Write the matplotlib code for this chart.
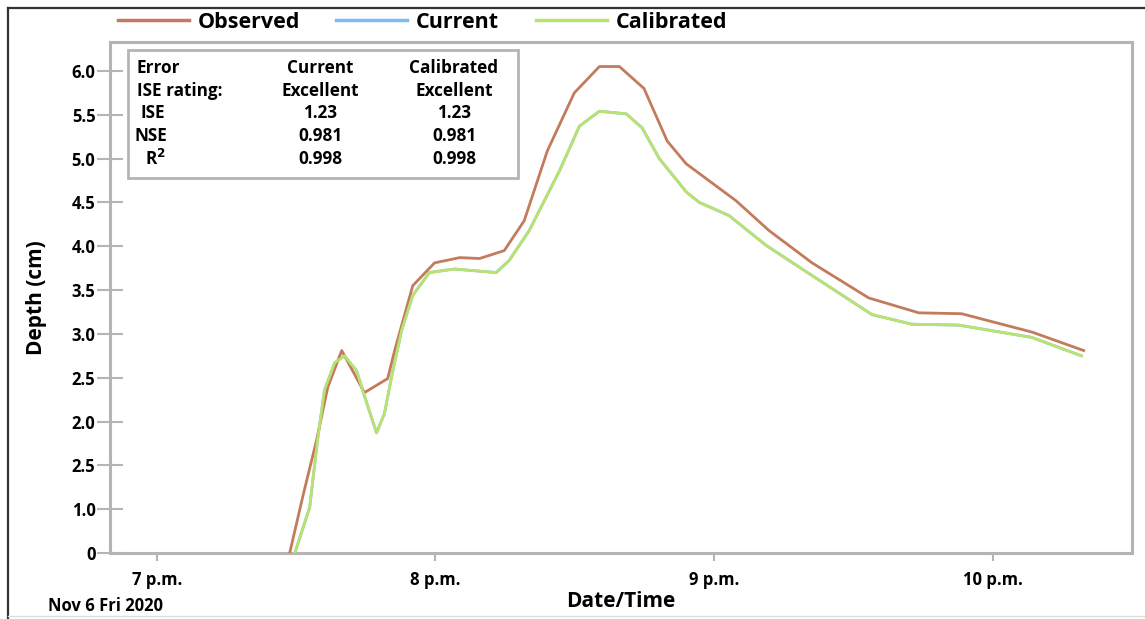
import pandas as pd
import matplotlib
matplotlib.use("Agg")
import matplotlib.pyplot as plt
from matplotlib.lines import Line2D

plt.rcParams["font.family"] = ["Open Sans", "DejaVu Sans"]
plt.rcParams["font.weight"] = "bold"

# minutes after 7 p.m. on Nov 6 2020, and depth in cm
obs_min = [28.6, 31.4, 34.4, 36.8, 39.8, 44.7, 49.7, 51.2, 55.1, 59.8, 65.2, 69.5,
           74.8, 79.1, 84.1, 89.9, 95.3, 99.6, 104.9, 109.9, 114.0, 116.8, 124.7, 131.8,
           141.1, 153.3, 164.1, 173.3, 188.5, 199.6]
obs_depth = [0.50, 1.14, 1.79, 2.39, 2.81, 2.33, 2.49, 2.81, 3.55, 3.81, 3.87, 3.86,
             3.95, 4.29, 5.09, 5.75, 6.05, 6.05, 5.80, 5.20, 4.94, 4.83, 4.52, 4.18,
             3.81, 3.41, 3.24, 3.23, 3.02, 2.81]

cal_min = [29.7, 32.9, 34.6, 36.1, 38.3, 40.4, 43.0, 45.2, 47.3, 49.0, 50.8, 52.7,
           55.1, 58.7, 64.1, 68.4, 73.1, 75.9, 80.2, 86.7, 91.0, 95.3, 101.1, 104.5,
           108.2, 114.0, 116.8, 123.2, 131.2, 140.4, 154.0, 162.6, 172.7, 188.4, 199.1]
cal_depth = [0.50, 1.02, 1.79, 2.36, 2.67, 2.75, 2.58, 2.21, 1.87, 2.09, 2.58, 3.04,
             3.44, 3.70, 3.74, 3.72, 3.70, 3.84, 4.18, 4.86, 5.37, 5.54, 5.51, 5.35,
             5.00, 4.62, 4.50, 4.35, 4.01, 3.69, 3.22, 3.11, 3.10, 2.96, 2.75]

# current run gives the same hydrograph as the calibrated one
cur_min = cal_min
cur_depth = cal_depth

y_ticks = [0.5, 1.0, 1.5, 2.0, 2.5, 3.0, 3.5, 4.0, 4.5, 5.0, 5.5, 6.0]
y_labels = ["0", "1.0", "2.5", "2.0", "2.5", "3.0", "3.5", "4.0", "4.5", "5.0", "5.5", "6.0"]
x_hours = [19, 20, 21, 22]
x_labels = ["7 p.m.", "8 p.m.", "9 p.m.", "10 p.m."]

table_rows = ["Error", "ISE rating:", "ISE", "NSE", r"R$^2$"]
current_col = ["Current", "Excellent", "1.23", "0.981", "0.998"]
calibrated_col = ["Calibrated", "Excellent", "1.23", "0.981", "0.998"]

start = pd.Timestamp("2020-11-06 19:00")
def to_time(mins):
    return start + pd.to_timedelta(mins, unit="min")

c_obs = "#c27b5d"
c_cur = "#7dbcf0"
c_cal = "#b9e26f"
grey = "#b4b4b4"

fig = plt.figure(figsize=(11.45, 6.19), dpi=100)
ax = fig.add_axes([110 / 1145, 66 / 619, 1022 / 1145, 511 / 619])

ax.plot(to_time(obs_min), obs_depth, color=c_obs, lw=2.0, label="Observed", zorder=3)
ax.plot(to_time(cur_min), cur_depth, color=c_cur, lw=2.0, label="Current", zorder=2)
ax.plot(to_time(cal_min), cal_depth, color=c_cal, lw=2.0, label="Calibrated", zorder=4)

ax.set_xlim(start + pd.Timedelta(minutes=-10.1), start + pd.Timedelta(minutes=210))
ax.set_ylim(0.5, 6.33)

ax.set_yticks(y_ticks)
ax.set_yticklabels(y_labels, fontsize=12, fontweight="bold")
ax.set_xticks([pd.Timestamp(2020, 11, 6, h) for h in x_hours])
ax.set_xticklabels(x_labels, fontsize=12, fontweight="bold")
ax.tick_params(axis="y", direction="inout", length=19, width=1.5, color=grey, pad=1)
ax.tick_params(axis="x", direction="out", length=6, width=1.5, color=grey, pad=7)

for s in ax.spines.values():
    s.set_color(grey)
    s.set_linewidth(2.2)

ax.set_ylabel("Depth (cm)", fontsize=15, fontweight="bold")
ax.yaxis.set_label_coords(-0.062, 0.5)
ax.set_xlabel("Date/Time", fontsize=15, fontweight="bold")
ax.xaxis.set_label_coords(0.5, -0.075)
fig.text(48 / 1145, 1 - 606 / 619, "Nov 6 Fri 2020", fontsize=12, fontweight="bold",
         va="center", ha="left")

# error statistics box
box = plt.Rectangle((128 / 1145, 1 - 178 / 619), 390 / 1145, 128 / 619,
                    transform=fig.transFigure, fill=False, edgecolor=grey, lw=2.0)
fig.add_artist(box)
row_y = [68, 91, 113, 136, 159]
row_x = [137, 137, 140, 135, 145]
for lab, cur, cal, yy, xx in zip(table_rows, current_col, calibrated_col, row_y, row_x):
    fig.text(xx / 1145, 1 - yy / 619, lab, fontsize=12.3, fontweight="bold", va="center")
    fig.text(320 / 1145, 1 - yy / 619, cur, fontsize=12.3, fontweight="bold",
             va="center", ha="center")
    fig.text(454 / 1145, 1 - yy / 619, cal, fontsize=12.3, fontweight="bold",
             va="center", ha="center")

leg = ax.legend(loc="center left", bbox_to_anchor=(109 / 1145, 1 - 22 / 619),
                bbox_transform=fig.transFigure, ncol=3, frameon=False,
                prop={"size": 15.5, "weight": "bold"}, handlelength=3.3,
                handletextpad=0.4, columnspacing=1.7, borderaxespad=0)
for h in leg.get_lines():
    h.set_linewidth(2.5)

# outer frame
fig.add_artist(Line2D([8 / 1145, 8 / 1145], [0, 1 - 8 / 619], transform=fig.transFigure,
                      color="#333333", lw=1.6))
fig.add_artist(Line2D([8 / 1145, 1], [1 - 8 / 619, 1 - 8 / 619], transform=fig.transFigure,
                      color="#333333", lw=1.6))
fig.add_artist(Line2D([8 / 1145, 1], [3 / 619, 3 / 619], transform=fig.transFigure,
                      color="#dddddd", lw=1.0))

fig.savefig("out.png", dpi=100)
